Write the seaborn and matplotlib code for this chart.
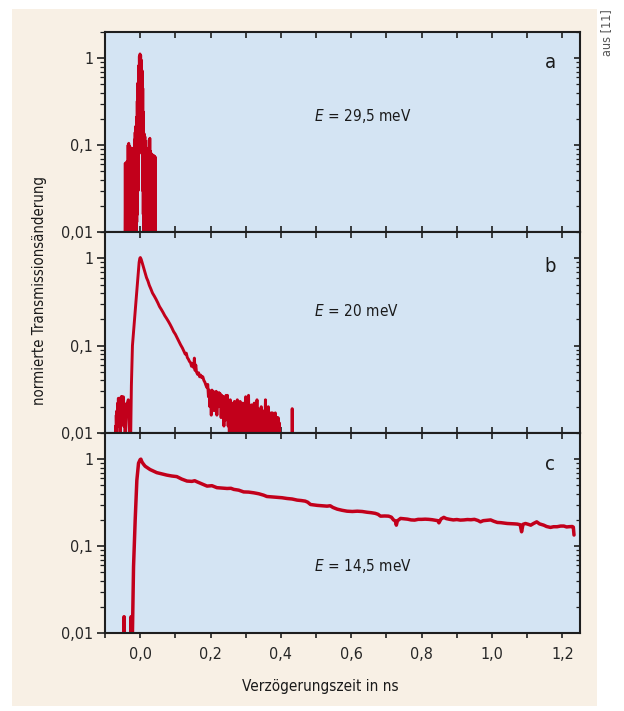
import numpy as np
import pandas as pd
import matplotlib
matplotlib.use("Agg")
import matplotlib.pyplot as plt
import matplotlib.font_manager as fm
from matplotlib.patches import Rectangle
from matplotlib.ticker import FixedLocator, LogLocator, NullFormatter
import seaborn as sns

# ---------------- data ----------------
# panel a: E = 29,5 meV (delay in ns, normalised transmission change)
a_t = [-0.0435, -0.0425, -0.0415, -0.0405, -0.0395, -0.0385, -0.0375, -0.0365, -0.0355, -0.0345,
       -0.0335, -0.0325, -0.0315, -0.0305, -0.0295, -0.0285, -0.0275, -0.0265, -0.0255, -0.0245,
       -0.0235, -0.0225, -0.0215, -0.0205, -0.0195, -0.0185, -0.0175, -0.0165, -0.0155, -0.0145,
       -0.0135, -0.0125, -0.0115, -0.0105, -0.0095, -0.0085, -0.0075, -0.0065, -0.0055, -0.0045,
       -0.0035, -0.0025, -0.0015, -0.0005, 0.0005, 0.0015, 0.0025, 0.0035, 0.0045, 0.0055,
       0.0065, 0.0075, 0.0085, 0.0095, 0.0105, 0.0115, 0.0125, 0.0135, 0.0145, 0.0155,
       0.0165, 0.0175, 0.0185, 0.0195, 0.0205, 0.0215, 0.0225, 0.0235, 0.0245, 0.0255,
       0.0265, 0.0275, 0.0285, 0.0295, 0.0305, 0.0315, 0.0325, 0.0335, 0.0345, 0.0355,
       0.0365, 0.0375, 0.0385, 0.0395, 0.0405, 0.0415, 0.0425, 0.0435]
a_y = [0.004, 0.062, 0.004, 0.060, 0.005, 0.064, 0.004, 0.058, 0.004, 0.100,
       0.005, 0.105, 0.004, 0.098, 0.005, 0.095, 0.006, 0.060, 0.004, 0.085,
       0.005, 0.092, 0.004, 0.078, 0.005, 0.090, 0.006, 0.115, 0.005, 0.140,
       0.007, 0.165, 0.009, 0.210, 0.013, 0.320, 0.016, 0.520, 0.030, 0.820,
       0.120, 1.050, 0.350, 1.120, 0.450, 1.080, 0.250, 0.950, 0.080, 0.720,
       0.030, 0.450, 0.016, 0.240, 0.006, 0.135, 0.004, 0.125, 0.005, 0.110,
       0.004, 0.090, 0.005, 0.092, 0.004, 0.088, 0.005, 0.090, 0.004, 0.115,
       0.005, 0.120, 0.004, 0.085, 0.005, 0.080, 0.004, 0.078, 0.005, 0.077,
       0.004, 0.076, 0.005, 0.075, 0.004, 0.074, 0.005, 0.072]

# panel b: E = 20 meV
b_t = [-0.071, -0.070, -0.069, -0.068, -0.067, -0.066, -0.065, -0.064, -0.063, -0.062,
       -0.061, -0.060, -0.059, -0.058, -0.057, -0.056, -0.055, -0.054, -0.053, -0.052,
       -0.051, -0.050, -0.049, -0.048, -0.047, -0.046, -0.045, -0.044, -0.043, -0.042,
       -0.040, -0.038, -0.036, -0.034, -0.032, -0.030, -0.028, -0.027, -0.025, -0.022,
       -0.017, -0.012, -0.007, -0.003, -0.001, 0.0005, 0.003, 0.006, 0.010, 0.014,
       0.018, 0.022, 0.026, 0.030, 0.035, 0.040, 0.045, 0.050, 0.055, 0.060,
       0.065, 0.070, 0.075, 0.080, 0.085, 0.090, 0.095, 0.100, 0.105, 0.110,
       0.115, 0.120, 0.125, 0.128, 0.131, 0.134, 0.137, 0.140, 0.143, 0.146,
       0.149, 0.152, 0.154, 0.156, 0.158, 0.160, 0.163, 0.166, 0.169, 0.172,
       0.175, 0.178, 0.181, 0.184, 0.187, 0.190, 0.192, 0.194, 0.196, 0.198,
       0.200, 0.202, 0.204, 0.206, 0.208, 0.210, 0.212, 0.214, 0.216, 0.218,
       0.220, 0.222, 0.224, 0.226, 0.228, 0.230, 0.232, 0.234, 0.236, 0.238,
       0.240, 0.242, 0.244, 0.246, 0.248, 0.250, 0.252, 0.254, 0.256, 0.258,
       0.260, 0.262, 0.264, 0.266, 0.268, 0.270, 0.272, 0.274, 0.276, 0.278,
       0.280, 0.282, 0.284, 0.286, 0.288, 0.290, 0.292, 0.294, 0.296, 0.298,
       0.300, 0.302, 0.304, 0.306, 0.308, 0.310, 0.312, 0.314, 0.316, 0.318,
       0.320, 0.322, 0.324, 0.326, 0.328, 0.330, 0.332, 0.334, 0.336, 0.338,
       0.340, 0.342, 0.344, 0.346, 0.348, 0.350, 0.352, 0.354, 0.356, 0.358,
       0.360, 0.362, 0.364, 0.366, 0.368, 0.370, 0.372, 0.374, 0.376, 0.378,
       0.380, 0.382, 0.384, 0.386, 0.388, 0.390, 0.392, 0.394, 0.396, 0.398,
       0.4315, 0.4320, 0.4325]
b_y = [0.004, 0.012, 0.005, 0.016, 0.009, 0.018, 0.012, 0.022, 0.013, 0.025,
       0.015, 0.024, 0.012, 0.020, 0.006, 0.018, 0.013, 0.026, 0.016, 0.026,
       0.014, 0.025, 0.018, 0.026, 0.012, 0.020, 0.014, 0.017, 0.004, 0.010,
       0.016, 0.022, 0.018, 0.024, 0.015, 0.008, 0.004, 0.009, 0.035, 0.100,
       0.180, 0.320, 0.560, 0.900, 1.000, 1.020, 0.970, 0.880, 0.780, 0.680,
       0.600, 0.550, 0.490, 0.450, 0.400, 0.370, 0.340, 0.310, 0.280, 0.260,
       0.240, 0.220, 0.205, 0.190, 0.175, 0.160, 0.145, 0.135, 0.123, 0.112,
       0.102, 0.094, 0.085, 0.080, 0.082, 0.073, 0.070, 0.066, 0.064, 0.058,
       0.062, 0.056, 0.072, 0.052, 0.060, 0.050, 0.047, 0.049, 0.044, 0.046,
       0.043, 0.044, 0.040, 0.038, 0.035, 0.033, 0.036, 0.026, 0.031, 0.020,
       0.030, 0.016, 0.031, 0.022, 0.030, 0.018, 0.029, 0.025, 0.030, 0.016,
       0.028, 0.020, 0.029, 0.022, 0.028, 0.015, 0.027, 0.020, 0.026, 0.012,
       0.025, 0.014, 0.027, 0.020, 0.027, 0.012, 0.022, 0.005, 0.024, 0.013,
       0.022, 0.007, 0.022, 0.015, 0.023, 0.006, 0.021, 0.012, 0.024, 0.008,
       0.022, 0.014, 0.023, 0.006, 0.021, 0.012, 0.022, 0.005, 0.020, 0.011,
       0.026, 0.008, 0.022, 0.014, 0.027, 0.006, 0.020, 0.012, 0.021, 0.005,
       0.019, 0.010, 0.022, 0.007, 0.020, 0.012, 0.024, 0.005, 0.019, 0.010,
       0.018, 0.006, 0.020, 0.011, 0.018, 0.005, 0.017, 0.009, 0.024, 0.006,
       0.018, 0.010, 0.020, 0.005, 0.016, 0.008, 0.017, 0.004, 0.017, 0.010,
       0.016, 0.005, 0.017, 0.009, 0.015, 0.004, 0.015, 0.008, 0.013, 0.004,
       0.004, 0.019, 0.004]

# panel c: E = 14,5 meV
c_t = [-0.0465, -0.0458, -0.0450, -0.0265, -0.0258, -0.0240, -0.0220, -0.0189, -0.0142, -0.0095,
       -0.0047, 0.0, 0.002, 0.005, 0.009, 0.014, 0.020, 0.028, 0.037, 0.047,
       0.060, 0.076, 0.090, 0.104, 0.118, 0.133, 0.147, 0.155, 0.161, 0.175,
       0.190, 0.204, 0.218, 0.232, 0.247, 0.258, 0.266, 0.280, 0.294, 0.308,
       0.323, 0.337, 0.351, 0.360, 0.370, 0.380, 0.389, 0.403, 0.417, 0.432,
       0.446, 0.458, 0.469, 0.476, 0.484, 0.494, 0.503, 0.517, 0.531, 0.540,
       0.548, 0.560, 0.574, 0.588, 0.603, 0.617, 0.631, 0.645, 0.657, 0.668,
       0.676, 0.683, 0.695, 0.706, 0.714, 0.720, 0.725, 0.728, 0.731, 0.740,
       0.750, 0.760, 0.770, 0.780, 0.790, 0.800, 0.810, 0.820, 0.830, 0.840,
       0.846, 0.849, 0.855, 0.863, 0.870, 0.880, 0.890, 0.900, 0.910, 0.920,
       0.930, 0.940, 0.950, 0.960, 0.967, 0.975, 0.985, 0.996, 1.005, 1.015,
       1.025, 1.035, 1.043, 1.055, 1.065, 1.072, 1.080, 1.084, 1.088, 1.095,
       1.103, 1.110, 1.118, 1.127, 1.135, 1.147, 1.155, 1.166, 1.175, 1.185,
       1.195, 1.204, 1.212, 1.218, 1.228, 1.231, 1.233]
c_y = [0.004, 0.0154, 0.004, 0.004, 0.0154, 0.006, 0.010, 0.058, 0.200, 0.570,
       0.900, 0.990, 1.000, 0.930, 0.880, 0.830, 0.800, 0.760, 0.730, 0.700,
       0.680, 0.655, 0.640, 0.630, 0.590, 0.560, 0.555, 0.565, 0.550, 0.520,
       0.490, 0.495, 0.470, 0.465, 0.460, 0.462, 0.449, 0.440, 0.420, 0.418,
       0.410, 0.400, 0.385, 0.372, 0.369, 0.365, 0.363, 0.360, 0.353, 0.348,
       0.338, 0.334, 0.329, 0.320, 0.301, 0.297, 0.294, 0.291, 0.288, 0.291,
       0.278, 0.266, 0.258, 0.252, 0.250, 0.252, 0.250, 0.245, 0.242, 0.238,
       0.232, 0.221, 0.222, 0.221, 0.215, 0.200, 0.195, 0.174, 0.195, 0.208,
       0.206, 0.204, 0.200, 0.199, 0.203, 0.203, 0.204, 0.203, 0.201, 0.198,
       0.196, 0.185, 0.205, 0.214, 0.207, 0.203, 0.200, 0.202, 0.199, 0.200,
       0.202, 0.201, 0.203, 0.197, 0.190, 0.196, 0.198, 0.200, 0.193, 0.187,
       0.186, 0.184, 0.182, 0.181, 0.180, 0.179, 0.176, 0.146, 0.178, 0.182,
       0.178, 0.174, 0.182, 0.190, 0.180, 0.174, 0.168, 0.164, 0.167, 0.167,
       0.170, 0.170, 0.166, 0.167, 0.168, 0.165, 0.134]

panel_letters = ["a", "b", "c"]
energy_labels = ["29,5", "20", "14,5"]
x_ticks = [-0.1, 0.0, 0.1, 0.2, 0.3, 0.4, 0.5, 0.6, 0.7, 0.8, 0.9, 1.0, 1.1, 1.2]
x_ticklabels = ["", "0,0", "", "0,2", "", "0,4", "", "0,6", "", "0,8", "", "1,0", "", "1,2"]
y_ticks = [0.01, 0.1, 1.0]
y_ticklabels = ["0,01", "0,1", "1"]
x_label = "Verzögerungszeit in ns"
y_label = "normierte Transmissionsänderung"
source_note = "aus [11]"

# ---------------- style ----------------
sns.set_style("ticks")
ttf = fm.fontManager.ttflist
names = {f.name for f in ttf}
FAM, STRETCH, SCALE = "DejaVu Sans", "normal", 0.9
if any(f.name == "DejaVu Sans" and f.stretch == "condensed" for f in ttf):
    FAM, STRETCH, SCALE = "DejaVu Sans", "condensed", 1.0
elif "Liberation Sans Narrow" in names:
    FAM, STRETCH, SCALE = "Liberation Sans Narrow", "normal", 1.15
plt.rcParams["font.family"] = [FAM]
plt.rcParams["font.stretch"] = STRETCH
plt.rcParams["mathtext.fontset"] = "dejavusans"

RED = "#C2001B"
AXBG = "#D4E4F3"
BEIGE = "#F8F0E5"
SPINE = "#1e1e1e"
TXT = "#1a1a1a"
W, H = 624, 711
fs_tick = 11.5 * SCALE

fig = plt.figure(figsize=(W / 100, H / 100), dpi=100)
fig.patches.append(Rectangle((12 / W, 1 - 706 / H), (597 - 12) / W, (706 - 9) / H,
                             transform=fig.transFigure, facecolor=BEIGE, edgecolor="none",
                             zorder=-10))

panels = [
    (a_t, a_y, 32, 232, 0.58, 0.85, 2.0),
    (b_t, b_y, 232, 433, 0.607, 0.83, 2.1),
    (c_t, c_y, 433, 633, 0.335, 0.84, 2.5),
]

for i, (tt, yy, top, bot, ey, ly, lw) in enumerate(panels):
    ax = fig.add_axes([105 / W, 1 - bot / H, 475 / W, (bot - top) / H])
    ax.set_zorder(1)
    ax.set_facecolor(AXBG)
    df = pd.DataFrame({"t": tt, "y": yy})
    sns.lineplot(data=df, x="t", y="y", ax=ax, color=RED, lw=lw,
                 estimator=None, sort=False, legend=False)
    ax.set_yscale("log")
    ax.set_ylim(0.01, 2.0)
    ax.set_xlim(-0.1, 1.25)
    ax.set_xlabel("")
    ax.set_ylabel("")
    for s in ax.spines.values():
        s.set_linewidth(1.5)
        s.set_color(SPINE)

    # x ticks
    ax.xaxis.set_major_locator(FixedLocator(x_ticks))
    if i < 2:
        ax.tick_params(axis="x", which="major", direction="in", top=True, bottom=True,
                       length=4.5, width=1.2, color=SPINE, labelbottom=False)
    else:
        ax.set_xticklabels(x_ticklabels)
        ax.tick_params(axis="x", which="major", direction="out", top=False, bottom=True,
                       length=3.5, width=1.2, color=SPINE, labelsize=fs_tick, pad=6.5)
        sec = ax.secondary_xaxis("top")
        sec.xaxis.set_major_locator(FixedLocator(x_ticks))
        sec.tick_params(axis="x", direction="in", length=4.5, width=1.2, color=SPINE, labeltop=False)
        sec.spines["top"].set_visible(False)
    ax.tick_params(axis="x", which="minor", bottom=False, top=False)

    # y ticks (left: outward, with labels)
    ax.yaxis.set_major_locator(FixedLocator(y_ticks))
    ax.set_yticklabels(y_ticklabels)
    ax.yaxis.set_minor_locator(LogLocator(base=10, subs=np.arange(2, 10)))
    ax.yaxis.set_minor_formatter(NullFormatter())
    ax.tick_params(axis="y", which="major", direction="out", length=6, width=1.2,
                   color=SPINE, labelsize=fs_tick, pad=2.5, right=False)
    ax.tick_params(axis="y", which="minor", direction="out", length=3.5, width=0.9,
                   color=SPINE, right=False)

    # right side ticks (inward)
    ax2 = ax.twinx()
    ax2.set_yscale("log")
    ax2.set_ylim(0.01, 2.0)
    ax2.yaxis.set_major_locator(FixedLocator(y_ticks))
    ax2.yaxis.set_minor_locator(LogLocator(base=10, subs=np.arange(2, 10)))
    ax2.yaxis.set_major_formatter(NullFormatter())
    ax2.yaxis.set_minor_formatter(NullFormatter())
    ax2.tick_params(axis="y", which="major", direction="in", length=4.5, width=1.2, color=SPINE)
    ax2.tick_params(axis="y", which="minor", direction="in", length=3, width=0.9, color=SPINE)
    for s in ax2.spines.values():
        s.set_visible(False)

    ax.text(0.937, ly, panel_letters[i], transform=ax.transAxes, ha="center", va="center",
            fontsize=14.5 * SCALE, color=TXT)
    ax.text(0.44, ey, "$E\\,=\\,$" + energy_labels[i] + " meV", transform=ax.transAxes,
            ha="left", va="center", fontsize=11 * SCALE, color=TXT)

fig.text(320 / W, 1 - 687 / H, x_label, ha="center", va="center", fontsize=11 * SCALE, color=TXT)
fig.text(40 / W, 1 - 290 / H, y_label, rotation=90, ha="center", va="center",
         fontsize=10.7 * SCALE, color=TXT)
fig.text(607 / W, 1 - 9 / H, source_note, rotation=90, ha="center", va="top",
         fontsize=9 * SCALE, color="#555555")

fig.savefig("out.png", dpi=100)
